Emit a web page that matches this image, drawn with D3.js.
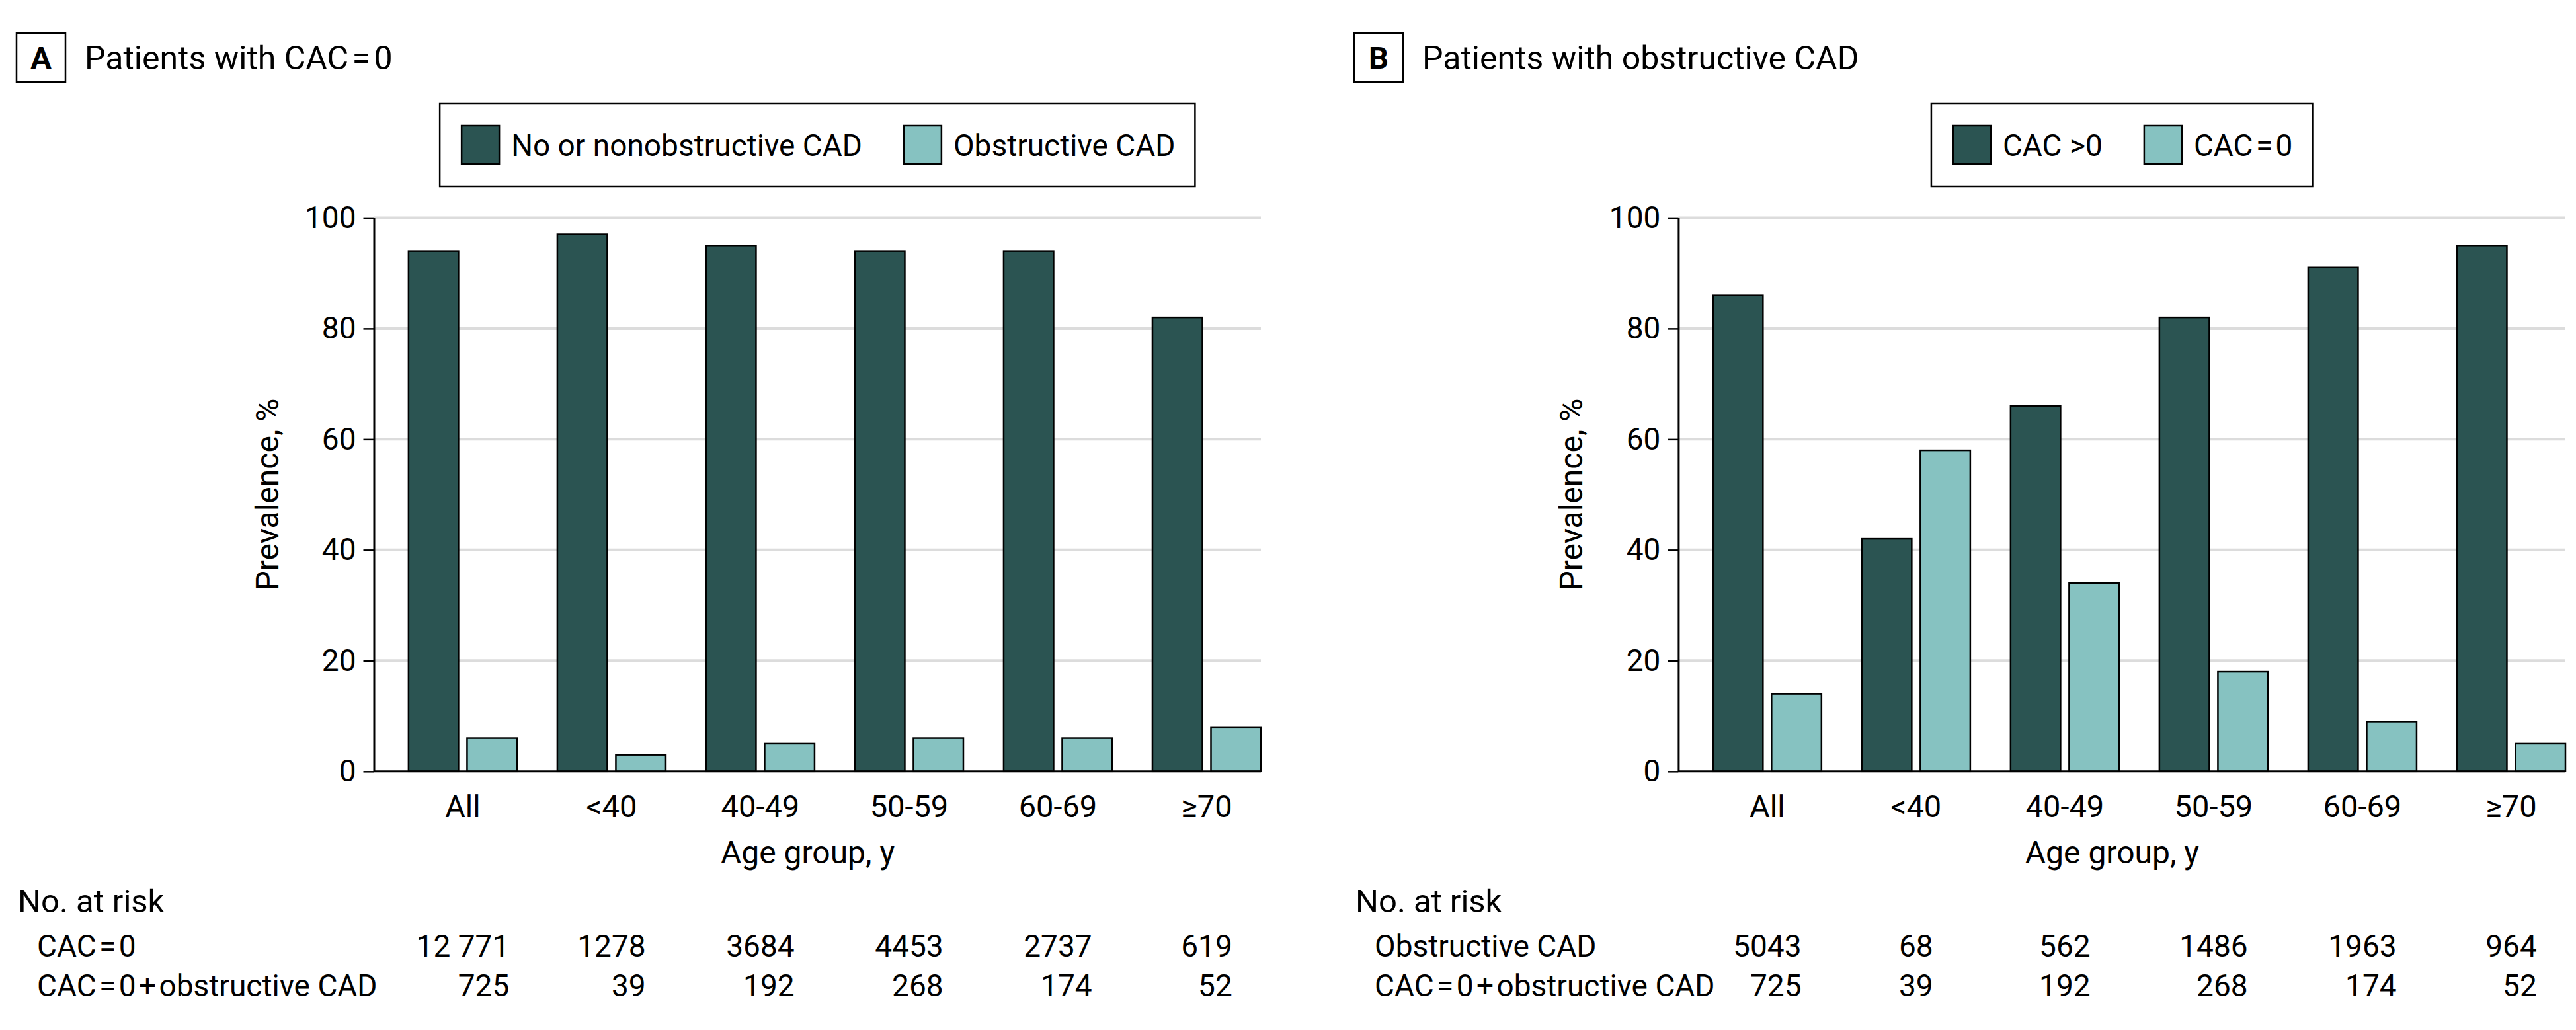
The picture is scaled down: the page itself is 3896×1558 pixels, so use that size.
<!DOCTYPE html>
<html>
<head>
<meta charset="utf-8">
<script src="https://cdn.jsdelivr.net/npm/d3@7"></script>
<style>
  html, body { margin: 0; padding: 0; background: #ffffff; }
  svg { display: block; }
  text { font-family: Roboto, "Noto Sans", sans-serif; fill: #000; }
</style>
</head>
<body>
<svg id="chart" width="3896" height="1558"></svg>
<script>
// ---------------- DATA ----------------
const categories = ["All", "<40", "40-49", "50-59", "60-69", "≥70"];
const yTicks = [0, 20, 40, 60, 80, 100];

const panelATitle = "Patients with CAC = 0";
const seriesA = ["No or nonobstructive CAD", "Obstructive CAD"];
const valuesA_noCAD = [94, 97, 95, 94, 94, 82];
const valuesA_obstructive = [6, 3, 5, 6, 6, 8];

const panelBTitle = "Patients with obstructive CAD";
const seriesB = ["CAC >0", "CAC = 0"];
const valuesB_cacPos = [86, 42, 66, 82, 91, 95];
const valuesB_cacZero = [14, 58, 34, 18, 9, 5];

const riskHeader = "No. at risk";
const riskRowLabelsA = ["CAC = 0", "CAC = 0 + obstructive CAD"];
const riskRow1A = ["12 771", "1278", "3684", "4453", "2737", "619"];
const riskRow2A = ["725", "39", "192", "268", "174", "52"];
const riskRowLabelsB = ["Obstructive CAD", "CAC = 0 + obstructive CAD"];
const riskRow1B = ["5043", "68", "562", "1486", "1963", "964"];
const riskRow2B = ["725", "39", "192", "268", "174", "52"];

const xTitle = "Age group, y";
const yTitle = "Prevalence, %";

// ---------------- STYLE ----------------
const colorDark = "#2b5452";
const colorLight = "#86c2c1";
const gridColor = "#dcdcdc";

const svg = d3.select("#chart");

// write text; spaces around "=" and "+" are narrowed (original uses thin spaces there)
function setText(sel, s) {
  const parts = s.split(/( [=+] )/);
  parts.forEach(p => {
    if (!p) return;
    const t = sel.append("tspan").text(p);
    if (/^ [=+] $/.test(p)) t.attr("word-spacing", -7);
  });
  return sel;
}

function drawPanel(cfg) {
  const g = svg.append("g");
  const axisX = cfg.axisX, plotRight = cfg.plotRight;
  const yTop = 329.4, yBottom = 1166.8;

  const y = d3.scaleLinear().domain([0, 100]).range([yBottom, yTop]);
  const x = d3.scaleBand().domain(categories)
    .range([axisX + 52.4, plotRight]).paddingInner(0.271).paddingOuter(0);
  const xs = d3.scaleBand().domain([0, 1]).range([0, x.bandwidth()]).paddingInner(0.147);

  // panel letter box + title
  g.append("rect").attr("x", cfg.boxX).attr("y", 50).attr("width", 74).attr("height", 74)
    .attr("fill", "#fff").attr("stroke", "#000").attr("stroke-width", 2.5);
  g.append("text").attr("x", cfg.boxX + 37).attr("y", 104).attr("text-anchor", "middle")
    .attr("font-size", 47).attr("font-weight", "bold").text(cfg.letter);
  setText(g.append("text").attr("x", cfg.boxX + 103).attr("y", 105)
    .attr("font-size", 50), cfg.title);

  // gridlines
  g.append("g").selectAll("line").data(yTicks.filter(d => d > 0)).join("line")
    .attr("x1", axisX).attr("x2", plotRight)
    .attr("y1", d => y(d)).attr("y2", d => y(d))
    .attr("stroke", gridColor).attr("stroke-width", 4);

  // bars
  const groups = g.append("g").selectAll("g").data(categories).join("g")
    .attr("transform", d => `translate(${x(d)},0)`);
  groups.selectAll("rect").data((d, i) => [cfg.v1[i], cfg.v2[i]]).join("rect")
    .attr("x", (d, j) => xs(j))
    .attr("y", d => y(d))
    .attr("width", xs.bandwidth())
    .attr("height", d => y(0) - y(d))
    .attr("fill", (d, j) => j === 0 ? colorDark : colorLight)
    .attr("stroke", "#000").attr("stroke-width", 2.5);

  // y axis
  const yAxis = d3.axisLeft(y).tickValues(yTicks).tickSize(16).tickPadding(11).tickSizeOuter(0);
  const ya = g.append("g").attr("transform", `translate(${axisX},0)`).call(yAxis);
  ya.select(".domain").attr("stroke", "#000").attr("stroke-width", 3);
  ya.selectAll(".tick line").attr("stroke", "#000").attr("stroke-width", 2.5);
  ya.selectAll(".tick text").attr("font-size", 46).attr("font-family", "Roboto, sans-serif")
    .attr("fill", "#000");

  // x baseline
  g.append("line").attr("x1", axisX).attr("x2", plotRight)
    .attr("y1", y(0)).attr("y2", y(0)).attr("stroke", "#000").attr("stroke-width", 3);

  // x axis labels
  const xAxis = d3.axisBottom(x).tickSize(0).tickPadding(0);
  const xa = g.append("g").attr("transform", `translate(0,${y(0)})`).call(xAxis);
  xa.select(".domain").remove();
  xa.selectAll(".tick text").attr("font-size", 47).attr("font-family", "Roboto, sans-serif")
    .attr("fill", "#000").attr("dy", null).attr("y", 1236 - y(0));

  // axis titles
  g.append("text").attr("x", axisX + 656).attr("y", 1306).attr("text-anchor", "middle")
    .attr("font-size", 48).text(xTitle);
  g.append("text").attr("transform", `translate(${axisX - 145},${(yTop + yBottom) / 2}) rotate(-90)`)
    .attr("text-anchor", "middle").attr("font-size", 48).text(yTitle);

  // legend
  const lg = g.append("g");
  const pad = 33, padR = 30, sw = 57, sh = 58, gapT = 18, gapItem = 63;
  const labels = cfg.series.map(s => setText(lg.append("text").attr("font-size", 46).attr("y", 236), s));
  const widths = labels.map(t => t.node().getBBox().width);
  const total = pad + padR + cfg.series.length * (sw + gapT) + d3.sum(widths) + gapItem * (cfg.series.length - 1);
  const lx = (axisX + plotRight) / 2 - total / 2;
  lg.insert("rect", ":first-child").attr("x", lx).attr("y", 157).attr("width", total).attr("height", 125)
    .attr("fill", "#fff").attr("stroke", "#000").attr("stroke-width", 2.5);
  let cx = lx + pad;
  cfg.series.forEach((s, i) => {
    lg.append("rect").attr("x", cx).attr("y", 190).attr("width", sw).attr("height", sh)
      .attr("fill", i === 0 ? colorDark : colorLight).attr("stroke", "#000").attr("stroke-width", 2.5);
    labels[i].attr("x", cx + sw + gapT);
    cx += sw + gapT + widths[i] + gapItem;
  });

  // number at risk table
  g.append("text").attr("x", cfg.riskX).attr("y", 1380).attr("font-size", 49).text(riskHeader);
  cfg.riskLabels.forEach((lab, r) => {
    setText(g.append("text").attr("x", cfg.riskX + 29).attr("y", 1447 + r * 60).attr("font-size", 46), lab);
  });
  categories.forEach((c, i) => {
    const cxm = x(c) + x.bandwidth() / 2;
    const t1 = g.append("text").attr("x", cxm).attr("y", 1447).attr("text-anchor", "middle")
      .attr("font-size", 46).text(cfg.risk1[i]);
    const w1 = t1.node().getComputedTextLength();
    g.append("text").attr("x", cxm + w1 / 2).attr("y", 1507).attr("text-anchor", "end")
      .attr("font-size", 46).text(cfg.risk2[i]);
  });
}

drawPanel({
  letter: "A", title: panelATitle, boxX: 25, axisX: 565.5, plotRight: 1907,
  series: seriesA, v1: valuesA_noCAD, v2: valuesA_obstructive,
  riskX: 27, riskLabels: riskRowLabelsA, risk1: riskRow1A, risk2: riskRow2A
});
drawPanel({
  letter: "B", title: panelBTitle, boxX: 2048, axisX: 2538.4, plotRight: 3880,
  series: seriesB, v1: valuesB_cacPos, v2: valuesB_cacZero,
  riskX: 2050, riskLabels: riskRowLabelsB, risk1: riskRow1B, risk2: riskRow2B
});
</script>
</body>
</html>
